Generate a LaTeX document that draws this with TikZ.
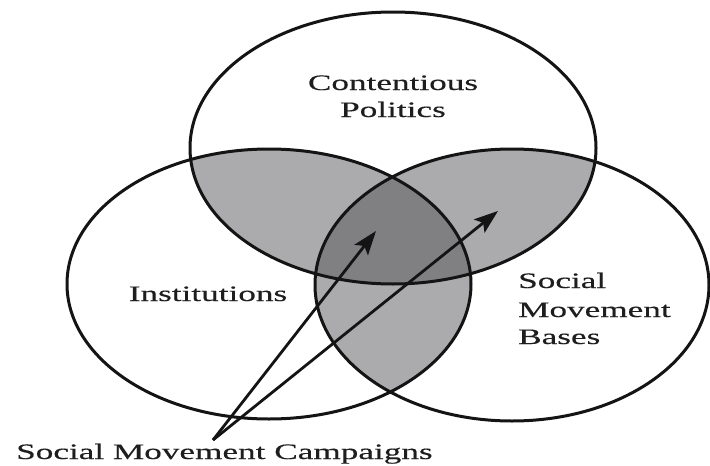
\documentclass[tikz,border=0pt]{standalone}
\usepackage{fontspec}
\setmainfont[FakeStretch=1.6,FakeBold=0.3]{Liberation Serif}
\usetikzlibrary{arrows.meta}
\definecolor{lightshade}{HTML}{ABABAD}
\definecolor{darkshade}{HTML}{807F82}
\definecolor{inkc}{HTML}{141414}
\definecolor{textc}{HTML}{1E1E1E}
\begin{document}
\begin{tikzpicture}[x=1pt,y=-1pt,
  outline/.style={draw=inkc,line width=3pt},
  lbl/.style={inner sep=0pt,text=textc,font=\fontsize{22}{27}\selectfont},
  campaignarrow/.style={draw=inkc,line width=2.8pt,-{Stealth[length=24pt,width=17pt,inset=5pt]}}]
\fill[white] (0,0) rectangle (710,466);
\useasboundingbox (0,0) rectangle (710,466);
\coordinate (T) at (393,148);
\coordinate (L) at (269,284);
\coordinate (R) at (512,285);
\def\ellT{(T) ellipse [x radius=203, y radius=136]}
\def\ellL{(L) ellipse [x radius=202, y radius=135]}
\def\ellR{(R) ellipse [x radius=197, y radius=136]}
% pairwise overlaps
\begin{scope}
  \clip \ellT;
  \fill[lightshade] \ellL;
  \fill[lightshade] \ellR;
\end{scope}
\begin{scope}
  \clip \ellL;
  \fill[lightshade] \ellR;
\end{scope}
% triple overlap
\begin{scope}
  \clip \ellT;
  \clip \ellL;
  \fill[darkshade] \ellR;
\end{scope}
\draw[outline] \ellT;
\draw[outline] \ellL;
\draw[outline] \ellR;
% labels
\node[lbl,anchor=base] (cp1) at (393,90) {Contentious};
\node[lbl,anchor=base] (cp2) at (393,117) {Politics};
\node[lbl,anchor=base] (inst) at (208,301) {Institutions};
\node[lbl,anchor=base west] (smb1) at (518,288) {Social};
\node[lbl,anchor=base west] (smb2) at (518,317) {Movement};
\node[lbl,anchor=base west] (smb3) at (518,344) {Bases};
\node[lbl,anchor=base west] (smc) at (16,459) {Social Movement Campaigns};
% arrows
\coordinate (tail) at (213,440);
\coordinate (headA) at (376,231);
\coordinate (headB) at (498,211);
\draw[campaignarrow] (tail) -- (headA);
\draw[campaignarrow] (tail) -- (headB);
\end{tikzpicture}
\end{document}
